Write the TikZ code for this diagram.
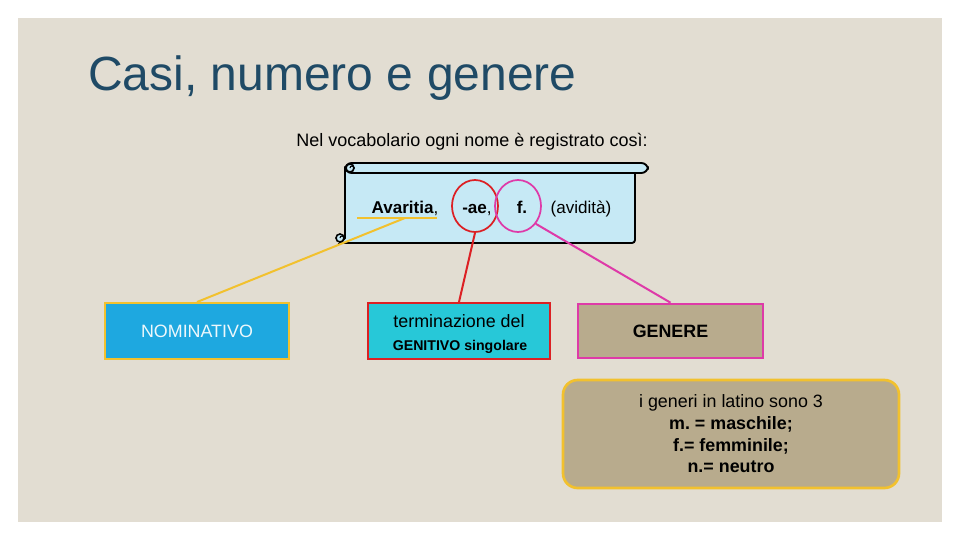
\documentclass[tikz,border=0pt]{standalone}
\usepackage{fontspec}
\setmainfont{Liberation Sans}
\usetikzlibrary{shapes.geometric}
\definecolor{panel}{RGB}{226,221,210}
\definecolor{titleblue}{RGB}{31,74,102}
\definecolor{scrollblue}{RGB}{198,233,245}
\definecolor{nomfill}{RGB}{30,168,224}
\definecolor{yel}{RGB}{242,193,46}
\definecolor{termfill}{RGB}{39,200,216}
\definecolor{redc}{RGB}{220,32,36}
\definecolor{magc}{RGB}{222,58,168}
\definecolor{tan}{RGB}{184,171,141}
\tikzset{
  box/.style={draw, line width=1.5pt, rectangle, inner sep=0pt, align=center, font=\fontsize{13.4}{16}\selectfont},
  conn/.style={line width=1.5pt},
  ring/.style={draw, ellipse, line width=1.3pt, inner sep=0pt, minimum width=34.5pt, minimum height=39pt},
  scrolltext/.style={anchor=base, inner sep=0pt, font=\fontsize{12.8}{15}\selectfont},
  plain/.style={anchor=base, inner sep=0pt}
}
\begin{document}
\frenchspacing
\begin{tikzpicture}[x=0.75pt,y=-0.75pt]
\useasboundingbox (0,0) rectangle (960,540);
\fill[white] (0,0) rectangle (960,540);
\fill[panel] (18,18) rectangle (942,522);
% title
\node[anchor=base west, inner sep=0pt, text=titleblue, font=\fontsize{36}{40}\selectfont] (title) at (88,90) {Casi, numero e genere};
\node[plain, font=\fontsize{13.5}{16}\selectfont] (intro) at (472,146) {Nel vocabolario ogni nome è registrato così:};
% scroll body
\filldraw[fill=scrollblue, draw=black, line width=1.4pt]
  (345,170) -- (345,238) -- (340,243) -- (632,243) arc[start angle=90, end angle=0, radius=3] -- (635,170) -- cycle;
% bottom-left curl
\filldraw[fill=scrollblue, draw=black, line width=1.2pt] (340,238) circle[radius=4];
\draw[line width=0.8pt] (340,238) arc[start angle=180, end angle=420, radius=2];
% top roll
\filldraw[fill=scrollblue, draw=black, line width=1.4pt, rounded corners=5] (345,163) rectangle (648,173);
\filldraw[fill=scrollblue, draw=black, line width=1.2pt] (350,168) circle[radius=4];
\draw[line width=0.8pt] (350,168) arc[start angle=180, end angle=420, radius=2];
% scroll texts
\node[scrolltext] (avar) at (405,213) {\textbf{Avaritia},};
\node[scrolltext] (ae) at (477,213) {\textbf{-ae},};
\node[scrolltext] (f) at (522,213) {\textbf{f.}};
\node[scrolltext] (avid) at (581,213) {(avidità)};
\draw[yel, line width=0.8pt] (357,218) -- (437,218);
\coordinate (under) at (405,218);
% rings
\node[ring, draw=redc] (rring) at (475,206) {};
\node[ring, draw=magc] (mring) at (518,206) {};
% boxes
\node[box, draw=yel, fill=nomfill, text=white!92!nomfill, minimum width=138pt, minimum height=42pt] (nom) at (197,331) {NOMINATIVO};
\node[box, draw=redc, fill=termfill, minimum width=136.5pt, minimum height=42pt] (term) at (459,331) {};
\node[plain, font=\fontsize{13.4}{16}\selectfont] (termA) at (459,327) {terminazione del};
\node[plain, font=\fontsize{10.6}{13}\selectfont\bfseries] (termB) at (460,350) {GENITIVO singolare};
\node[box, draw=magc, fill=tan, minimum width=139pt, minimum height=41pt, font=\fontsize{13.4}{16}\selectfont\bfseries] (gen) at (670.5,331) {GENERE};
\node[box, draw=yel, fill=tan, line width=2pt, rounded corners=11pt, minimum width=252pt, minimum height=81pt, font=\fontsize{13.4}{16.3}\selectfont] (info) at (731,434) {i generi in latino sono 3\\\textbf{m. = maschile;}\\\textbf{f.= femminile;}\\\textbf{n.= neutro}};
% connectors
\draw[conn, yel] (under) -- (nom.north);
\draw[conn, redc] (rring.south) -- (term.north);
\draw[conn, magc] (mring.-45) -- (gen.north);
\end{tikzpicture}
\end{document}
